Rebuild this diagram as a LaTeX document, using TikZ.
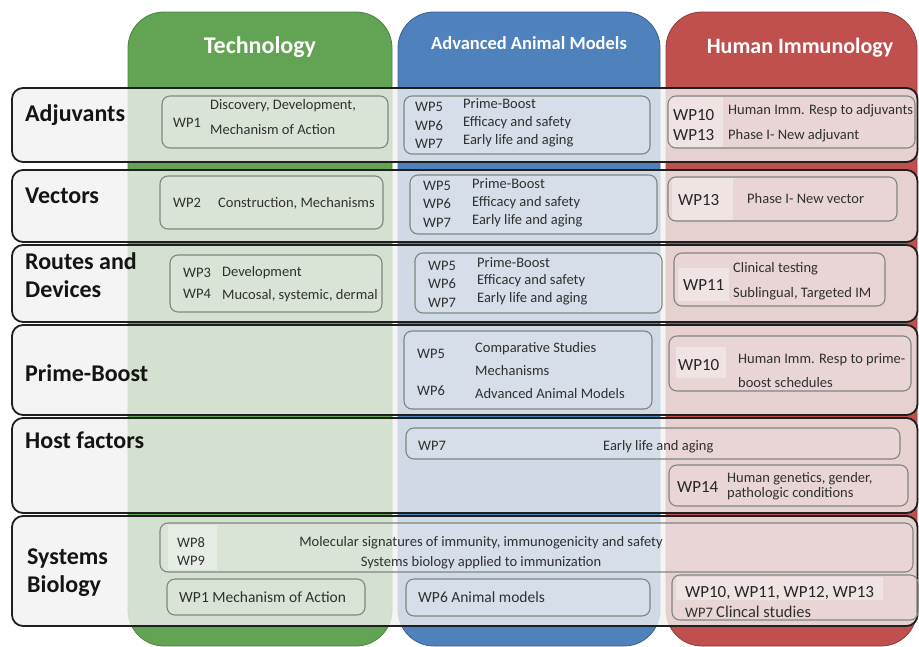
\documentclass[tikz,border=0pt]{standalone}
\usepackage{fontspec}
\setmainfont{Carlito}
\definecolor{techgreen}{RGB}{98,163,84}
\definecolor{animalblue}{RGB}{79,129,189}
\definecolor{humanred}{RGB}{192,80,77}
\definecolor{rowgray}{RGB}{241,241,241}
\definecolor{boxline}{RGB}{128,134,128}
\definecolor{txt}{RGB}{48,48,48}
\tikzset{
  column/.style={rounded corners=36pt, line width=0.8pt},
  rowband/.style={draw=black!88, line width=1.8pt, rounded corners=11pt, fill=rowgray, fill opacity=0.8},
  wpbox/.style={draw=boxline, line width=1.1pt, rounded corners=8pt, fill=white, fill opacity=0.12},
  glow/.style={fill=white, fill opacity=0.35},
  coltitle/.style={text=white, anchor=base, inner sep=0pt, font=\bfseries\fontsize{24}{27}\selectfont},
  rowlabel/.style={anchor=base west, inner sep=0pt, text=black!92, font=\bfseries\fontsize{24}{27}\selectfont},
  item/.style={anchor=base west, inner sep=0pt, text=txt, font=\fontsize{14.5}{16}\selectfont},
  bigwp/.style={anchor=base west, inner sep=0pt, text=black!85, font=\fontsize{17}{19}\selectfont},
  miditem/.style={anchor=base west, inner sep=0pt, text=txt, font=\fontsize{15.5}{17}\selectfont},
}
\begin{document}
\begin{tikzpicture}[x=1pt,y=-1pt]
\useasboundingbox (0,0) rectangle (919,646);

% the three research pillars
\filldraw[column, fill=techgreen, draw=techgreen!80!black] (128,12) rectangle (392,646);
\filldraw[column, fill=animalblue, draw=animalblue!75!black] (398,12) rectangle (660,646);
\filldraw[column, fill=humanred, draw=humanred!75!black] (666,12) rectangle (917,646);
\node[coltitle] (tTech) at (260,53) {Technology};
\node[coltitle, font=\bfseries\fontsize{18.5}{21}\selectfont] (tAnimal) at (529,49) {Advanced Animal Models};
\node[coltitle, font=\bfseries\fontsize{22}{25}\selectfont] (tHuman) at (800,53) {Human Immunology};

% translucent theme bands
\draw[rowband] (12,88) rectangle (917.5,162);
\draw[rowband] (12,170) rectangle (917.5,242);
\draw[rowband] (12,245) rectangle (917.5,322);
\draw[rowband] (12,325) rectangle (917.5,415);
\draw[rowband] (12,418) rectangle (917.5,513);
\draw[rowband] (12,516) rectangle (917.5,626);

% ---- Adjuvants
\node[rowlabel] (lAdj) at (25,121) {Adjuvants};
\draw[wpbox] (162,96) rectangle (388,148);
\node[item] (a1) at (173,127) {WP1};
\node[item] (a2) at (210,109) {Discovery, Development,};
\node[item] (a3) at (210,134) {Mechanism of Action};
\draw[wpbox] (404,96) rectangle (650,154);
\node[item] (a4) at (415,111) {WP5};
\node[item] (a5) at (415,130) {WP6};
\node[item] (a6) at (415,148) {WP7};
\node[item] (a7) at (463,108) {Prime-Boost};
\node[item] (a8) at (463,126) {Efficacy and safety};
\node[item] (a9) at (463,144) {Early life and aging};
\fill[glow] (668,97) rectangle (723,147);
\draw[wpbox] (668,96) rectangle (915,148);
\node[bigwp] (a10) at (673,120) {WP10};
\node[bigwp] (a11) at (673,140) {WP13};
\node[item] (a12) at (728,114) {Human Imm. Resp to adjuvants};
\node[item] (a13) at (728,139) {Phase I- New adjuvant};

% ---- Vectors
\node[rowlabel] (lVec) at (25,203) {Vectors};
\draw[wpbox] (160,176) rectangle (383,229);
\node[item] (v1) at (173,207) {WP2};
\node[item] (v2) at (218,207) {Construction, Mechanisms};
\draw[wpbox] (410,175) rectangle (657,234);
\node[item] (v3) at (423,190) {WP5};
\node[item] (v4) at (423,208) {WP6};
\node[item] (v5) at (423,227) {WP7};
\node[item] (v6) at (472,188) {Prime-Boost};
\node[item] (v7) at (472,206) {Efficacy and safety};
\node[item] (v8) at (472,224) {Early life and aging};
\fill[glow] (672,178) rectangle (733,220);
\draw[wpbox] (668,177) rectangle (897,221);
\node[bigwp] (v9) at (678,205) {WP13};
\node[item] (v10) at (747,203) {Phase I- New vector};

% ---- Routes and Devices
\node[rowlabel] (lRou1) at (25,269) {Routes and};
\node[rowlabel] (lRou2) at (25,297) {Devices};
\draw[wpbox] (170,255) rectangle (382,312);
\node[item] (r1) at (183,277) {WP3};
\node[item] (r2) at (183,298) {WP4};
\node[item] (r3) at (222,276) {Development};
\node[item] (r4) at (222,299) {Mucosal, systemic, dermal};
\draw[wpbox] (415,253) rectangle (662,313);
\node[item] (r5) at (428,270) {WP5};
\node[item] (r6) at (428,288) {WP6};
\node[item] (r7) at (428,307) {WP7};
\node[item] (r8) at (477,267) {Prime-Boost};
\node[item] (r9) at (477,284) {Efficacy and safety};
\node[item] (r10) at (477,302) {Early life and aging};
\fill[glow] (678,268) rectangle (729,301);
\draw[wpbox] (674,253) rectangle (885,306);
\node[bigwp] (r11) at (683,290) {WP11};
\node[item] (r12) at (733,272) {Clinical testing};
\node[item] (r13) at (733,297) {Sublingual, Targeted IM};

% ---- Prime-Boost
\node[rowlabel] (lPB) at (25,381) {Prime-Boost};
\draw[wpbox] (404,331) rectangle (652,409);
\node[item] (p1) at (417,358) {WP5};
\node[item] (p2) at (417,395) {WP6};
\node[item] (p3) at (475,352) {Comparative Studies};
\node[item] (p4) at (475,375) {Mechanisms};
\node[item] (p5) at (475,398) {Advanced Animal Models};
\fill[glow] (676,347) rectangle (726,378);
\draw[wpbox] (669,336) rectangle (911,391);
\node[bigwp] (p6) at (678,370) {WP10};
\node[item] (p7) at (738,363) {Human Imm. Resp to prime-};
\node[item] (p8) at (738,387) {boost schedules};

% ---- Host factors
\node[rowlabel] (lHost) at (25,448) {Host factors};
\draw[wpbox] (406,428) rectangle (900,459);
\node[item] (h1) at (418,450) {WP7};
\node[item] (h2) at (603,450) {Early life and aging};
\draw[wpbox] (669,465) rectangle (908,506);
\node[bigwp] (h3) at (677,492) {WP14};
\node[item] (h4) at (727,482) {Human genetics, gender,};
\node[item] (h5) at (727,497) {pathologic conditions};

% ---- Systems Biology
\node[rowlabel] (lSys1) at (27,564) {Systems};
\node[rowlabel] (lSys2) at (27,592) {Biology};
\fill[glow] (168,525) rectangle (217,570);
\draw[wpbox] (160,523) rectangle (913,572);
\node[item] (s1) at (177,547) {WP8};
\node[item] (s2) at (177,565) {WP9};
\node[item, anchor=base] (s3) at (481,546) {Molecular signatures of immunity, immunogenicity and safety};
\node[item, anchor=base] (s4) at (481,566) {Systems biology applied to immunization};
\draw[wpbox] (167,579) rectangle (365,615);
\node[miditem] (s5) at (179,602) {WP1 Mechanism of Action};
\draw[wpbox] (406,579) rectangle (650,616);
\node[miditem] (s6) at (418,602) {WP6 Animal models};
\fill[glow] (676,577) rectangle (883,600);
\draw[wpbox] (672,575) rectangle (918,620);
\node[bigwp] (s7) at (685,597) {WP10, WP11, WP12, WP13};
\node[item] (s8) at (685,617) {WP7};
\node[miditem, font=\fontsize{16.5}{18}\selectfont] (s9) at (716,617) {Clincal studies};
\end{tikzpicture}
\end{document}
